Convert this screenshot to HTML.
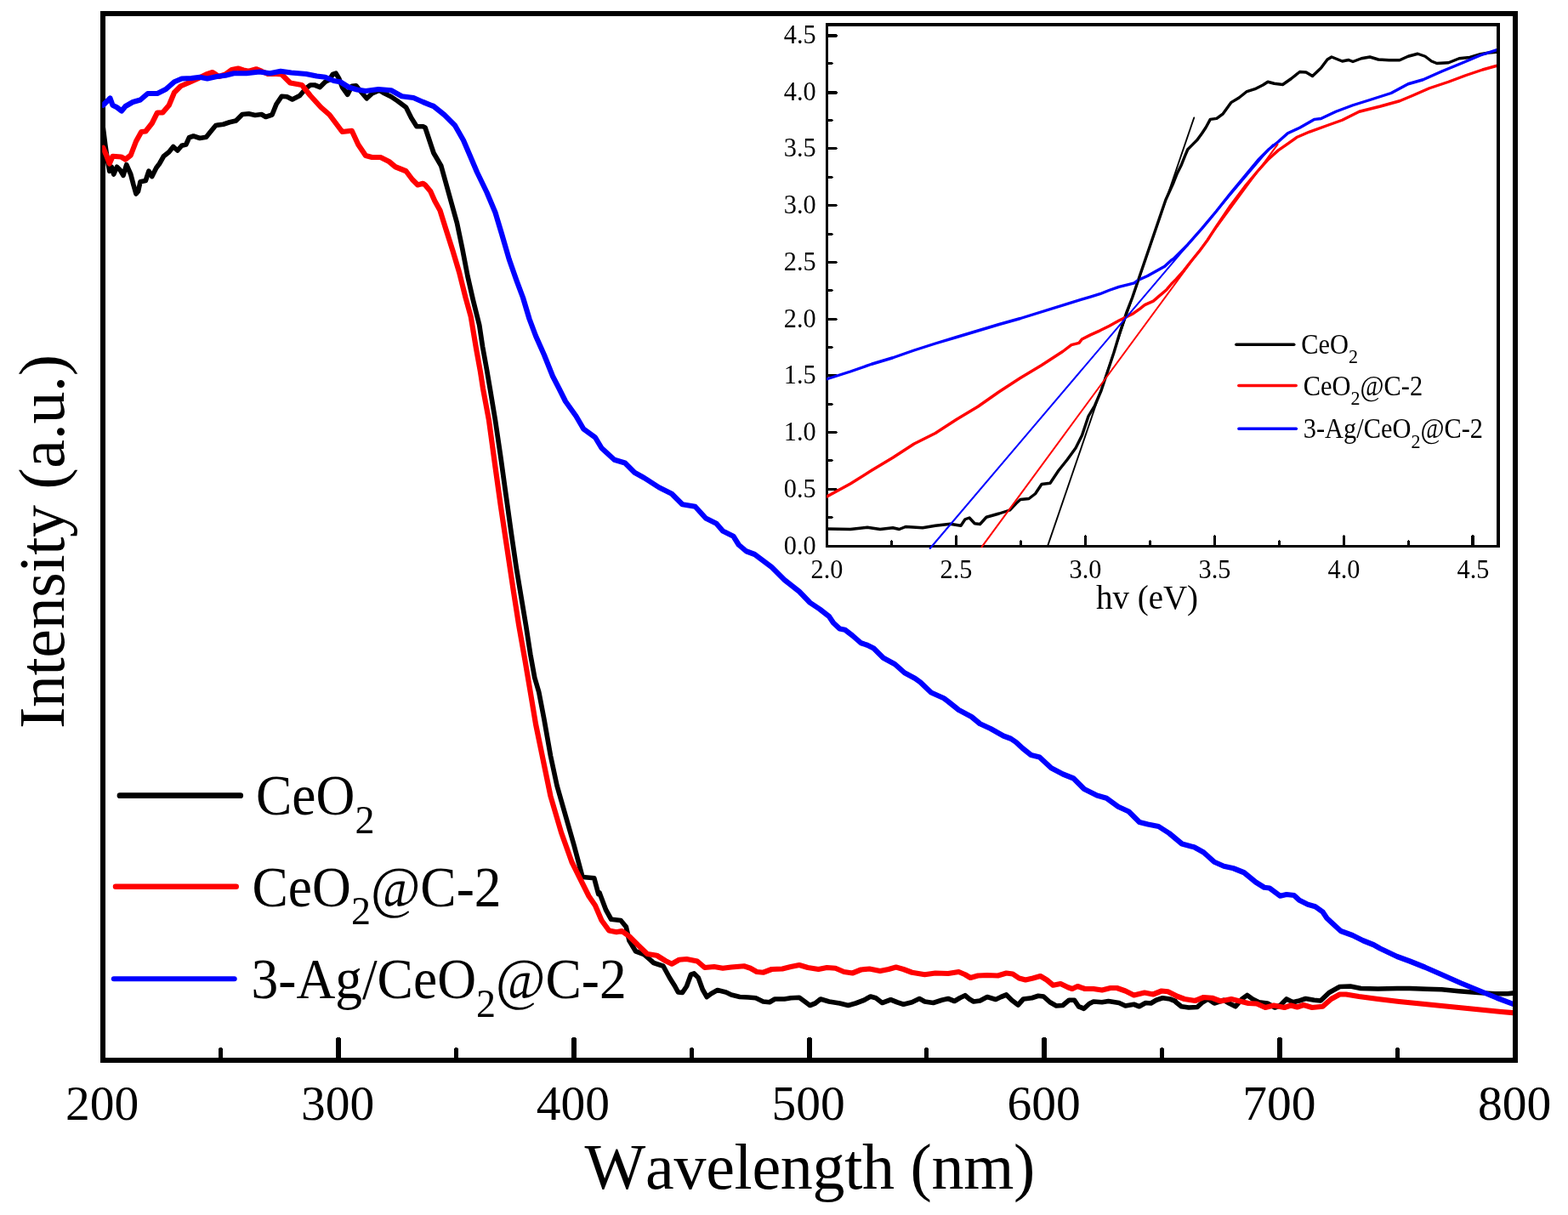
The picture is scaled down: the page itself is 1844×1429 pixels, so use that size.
<!DOCTYPE html>
<html lang="en"><head><meta charset="utf-8"><title>UV-vis DRS spectra</title>
<style>html,body{margin:0;padding:0;background:#fff;overflow:hidden;}svg{display:block;}text{font-family:"Liberation Serif", "DejaVu Serif", serif;fill:#000;font-kerning:none;}</style></head><body>
<svg width="1844" height="1429" viewBox="0 0 1844 1429">
<rect x="0" y="0" width="1844" height="1429" fill="#fff"/>
<defs><clipPath id="cm"><rect x="120.2" y="16" width="1658.8" height="1231"/></clipPath><clipPath id="ci"><rect x="972" y="29" width="788" height="613.5"/></clipPath></defs>
<path fill="#000" fill-rule="evenodd" shape-rendering="crispEdges" d="M118 13H1785V1250H118ZM124 19H1779V1244H124Z"/>
<g id="main-curves" clip-path="url(#cm)">
<polyline points="121.25,150 123.75,170 126.25,187.5 128.75,201.25 131.25,196.25 133.75,205 137.5,196.25 141.25,200 145,206.25 148.75,193.75 153.75,205 157,217.5 160,228 162.5,225 165,213.75 171.25,212.5 175,201.25 178.75,207.5 183.75,197.5 187.5,192.5 192.5,183.75 198.75,178.75 203.75,172.5 208.75,177 213.75,171.25 218.75,170 222.5,161.75 227.5,160 235,162.5 242.5,161.25 247.5,155 253.75,147.5 262.5,146.25 270,143.75 277.5,142 285,134.5 292.5,133.75 300,135.5 307.5,134.5 312.5,137.5 320,135 325,122.5 331.25,113.25 337.5,113.75 343.75,117 352.5,112.5 360,103.75 365,100 370,100 376.25,102.5 382.5,96.25 387.5,93.75 391.25,87.5 395,86.25 398.75,92.5 402.5,102.5 408.75,111.25 413.75,101.25 418.75,100.75 423.75,107 431.25,115.75 437.5,110 446.25,106.25 452.5,110 460,113.75 467.5,118.75 477.5,126.25 483.75,138.75 490,148.75 497.5,148.75 500,150 505,165 510,180 518.75,195 525,217.5 531.25,240 537.5,262.5 543.75,292.5 550,325 556.25,352.5 563.75,382.5 567.5,407.5 572.5,435 576.25,457 582.5,494.5 588.75,537 595,582 601.25,627 607.5,669.5 613.75,707 618.75,737 623.75,769.5 628.75,797 633.75,814 640,846.5 647.5,889 655,924 665,959 675,994 685,1031.5 698.75,1032.75 703.75,1051.5 705,1050 712.5,1070 718.75,1081.25 730,1082.5 736.25,1090 740,1106.25 747.5,1118.75 757.5,1122.5 768.75,1132.5 780,1136.25 787.5,1150 793.75,1160 797.5,1167 802.5,1167.5 807.5,1160 812.5,1146.25 816.25,1145 821.25,1150 826.25,1163.75 831.25,1172.5 836.25,1168.75 843.75,1164.5 853.75,1167 860,1170 870,1172.5 880,1173 888.75,1173.75 897.5,1178 905,1178.75 911.25,1175 922.5,1175 930,1173.75 940,1173.25 947.5,1178.75 952.5,1182.5 958.75,1180 965,1175 975,1178 987.5,1180 997.5,1182.5 1006.25,1180 1016.25,1176.25 1023.75,1172 1030,1173.75 1037.5,1179.5 1047.5,1175.75 1055,1178.75 1062.5,1181.25 1072.5,1178.75 1081.25,1174.5 1087.5,1178 1097.5,1179.5 1107.5,1176.25 1115,1174.5 1122.5,1177.5 1128.75,1173.75 1135,1170.75 1140,1175 1145,1178 1152.5,1177 1161,1172.5 1171,1175.5 1177.25,1172.5 1183.5,1170 1189.75,1176.25 1197.25,1182 1203.5,1175 1213.5,1173.75 1221,1171.25 1227.25,1172 1234.75,1178.75 1242.25,1183 1249.75,1182.5 1257.25,1176.25 1263.5,1176.25 1268.5,1183.75 1274.75,1186.25 1281,1180.5 1286,1178 1296,1178.75 1303.5,1177.5 1316,1179.5 1323.5,1183 1333.5,1181.25 1339.75,1183.75 1347.25,1179.5 1353.5,1180 1359.75,1176.25 1367.25,1173.75 1376,1175 1382.25,1177.5 1383,1178.75 1389.25,1183.75 1398,1185 1408,1184.5 1414.25,1178.75 1420.5,1175 1428,1180 1439.25,1176.25 1445.5,1180 1453,1183.75 1460.5,1175 1466.75,1170.5 1473,1175 1480.5,1178.75 1490.5,1180 1499.25,1185 1505.5,1182.5 1513,1175 1520.5,1178.75 1528,1177 1535.5,1174.5 1545.5,1176.25 1553,1177 1563,1167.5 1575.5,1160.5 1588,1160 1600.5,1162.5 1620.5,1163 1643,1162.5 1658,1162.5 1678,1163.25 1695.5,1163.75 1715.5,1165.75 1738,1167.5 1758,1168.75 1773,1168.75 1780.5,1168" fill="none" stroke="#000" stroke-width="5.7" stroke-linejoin="round" stroke-linecap="round"/>
<polyline points="121.25,173.75 125,182.5 128.75,192.5 132.5,183.75 142.5,184.5 147.5,187.5 153.75,182.5 160,166.25 166.25,155 171.25,154.5 178.75,145 185,132.5 191.25,132.5 198.75,123.75 205,108.75 212.5,101.25 222.5,97 232.5,92.5 242.5,87.5 250,85 257.5,90 265,87.5 272.5,82 280,80.5 286.25,82.5 292.5,83.75 301.25,81.25 307.5,83.75 315,87 325,87 331.25,87.5 341.25,97.5 355,100 365,112.5 377.5,126.25 387.5,135 402.5,155 413.75,153.75 421.25,170 430,183 437.5,185 447.5,185 457.5,190 465,196.25 477.5,201.25 485,211.25 491.25,217.5 497.5,215.75 500,217.5 506.25,225 511.25,236.25 517.5,247.5 523.75,267.5 532.5,295 540,320 547.5,350 553.75,372.5 560,410 565,437.5 568,457 575,494.5 582.5,549.5 588.75,594.5 596.25,644.5 603.75,694.5 610,734.5 617.5,777 623.75,814 630,851.5 638.75,894 647.5,936.5 660,979 672.5,1014 685,1039 692.5,1054 700,1065 707.5,1082.5 716.25,1094.5 725,1096.25 731.25,1095 740,1101.25 750,1111.25 761.25,1122 772.5,1123.75 782.5,1130 790,1133.75 798.75,1128.75 807.5,1128 820,1130.5 828.75,1138 840,1137 850,1138.75 860,1137.5 875,1136.25 882.5,1138.75 890,1143 897.5,1143.75 907.5,1140 920,1139.5 930,1137 940,1135 950,1138 962.5,1140 972.5,1138 982.5,1138.75 992.5,1143 1002.5,1144.5 1012.5,1140.5 1022.5,1139.5 1035,1142 1045,1140 1053.75,1137.5 1062.5,1140 1072.5,1143.75 1087.5,1146.25 1100,1144.5 1115,1145 1127.5,1143 1135,1146.25 1141.25,1150 1150,1147.5 1161,1147 1173.5,1147.5 1183.5,1144.5 1191,1145.5 1198.5,1150.5 1206,1152.5 1214.75,1150.5 1223.5,1148 1231,1152.5 1238.5,1158.75 1247.25,1157 1256,1161.25 1261,1163 1267.25,1160 1276,1163 1286,1163 1296,1164.5 1306,1162 1313.5,1162 1323.5,1165.5 1333.5,1170.5 1346,1167.5 1356,1169.5 1366,1165.5 1373.5,1166.25 1383.5,1171.25 1383,1171.25 1393,1175 1405.5,1177 1415.5,1173 1425.5,1173.75 1435.5,1177.5 1448,1175 1458,1177.5 1468,1180 1478,1180.5 1488,1185 1498,1182.5 1510.5,1185 1518,1182.5 1525.5,1184.5 1533,1182 1543,1185 1555.5,1183.75 1565.5,1175 1575.5,1169.5 1583,1169.5 1598,1172 1620.5,1175 1645.5,1178 1670.5,1180.5 1695.5,1183 1720.5,1185.5 1745.5,1188 1765.5,1190 1780.5,1191.25" fill="none" stroke="#f00" stroke-width="6.2" stroke-linejoin="round" stroke-linecap="round"/>
<polyline points="121.25,123.75 125,120 129.5,115.5 132.5,123.75 137.5,126.25 143,130.5 147.5,125 156.25,120 165,117.5 173.75,110 185,110 195,105 205,96.25 213.75,92.5 225,92 235,90.75 243.75,92.5 255,90 265,88.75 275,86.25 290,86.25 305,84.5 317.5,86.25 330,83.75 342.5,85.5 360,87 372.5,89.5 382.5,90.75 392.5,95 400,96.25 410,102.5 420,105.5 430,107 445,105 460,106.25 472.5,113.25 486.25,115 497.5,120 510,125 522.5,135 535,147.5 545,165 552.5,182.5 561,202.5 572.5,226.25 582.5,250 590,275 598.75,305 607.5,330 615,350 622.5,375 630,395 640,417.5 650,442.5 657.5,457 665,472 677.5,489.5 686.25,504.5 700,514.5 707.5,527 722.5,540.75 735,544.5 746.25,555.75 757.5,562 775,573.25 790,580.75 802.5,593.25 817.5,595.75 830,609.5 842.5,615.75 850,624.5 862.5,630.75 868.75,640.75 877.5,648.25 887.5,652 907.5,667 922.5,682 940,695.75 952.5,708.75 963.75,716.25 975,725 980,732.5 987.5,739.5 993.75,740.75 1002.5,747.5 1012.5,756.25 1020,758.75 1027.5,762.5 1038.75,773.75 1052.5,781.25 1063.75,791.25 1076.25,798 1082.5,802.5 1095,814.5 1110,821.25 1115,825 1127.5,835 1142.5,843 1152.5,851.25 1165,857 1180,865.5 1188.75,868.75 1195,873 1202.5,880 1212.5,888 1222.5,890.5 1236.25,903.25 1250,910.5 1262.5,915.5 1275,928 1290,935.5 1301.25,938.75 1315,948.75 1327.5,954.5 1340,967 1350,969.5 1362.5,972 1375,980 1390,992.5 1401,995.5 1404.25,996.25 1415.5,1002.5 1428,1013.75 1439.25,1018.75 1450.5,1021.25 1463,1026.25 1476.75,1037.5 1486.75,1043.75 1493,1044.5 1505.5,1053.75 1513,1052 1521.75,1053 1528,1058.75 1538,1063.75 1546.75,1066.25 1555.5,1072.5 1560.5,1080 1576.75,1095 1590.5,1100 1603,1106.25 1615.5,1111.25 1623,1115.5 1643,1125 1658,1130.5 1675.5,1137.5 1695.5,1146.25 1718,1156.25 1740.5,1165.5 1760.5,1173.75 1780.5,1181.25" fill="none" stroke="#00f" stroke-width="6.2" stroke-linejoin="round" stroke-linecap="round"/>
</g>
<g id="main-ticks" fill="#000" shape-rendering="crispEdges">
<rect x="257" y="1233" width="5" height="12"/>
<rect x="258" y="1232" width="3" height="1"/>
<rect x="395" y="1221" width="6" height="24"/>
<rect x="396" y="1220" width="4" height="1"/>
<rect x="534" y="1233" width="5" height="12"/>
<rect x="535" y="1232" width="3" height="1"/>
<rect x="672" y="1221" width="6" height="24"/>
<rect x="673" y="1220" width="4" height="1"/>
<rect x="811" y="1233" width="5" height="12"/>
<rect x="812" y="1232" width="3" height="1"/>
<rect x="949" y="1221" width="6" height="24"/>
<rect x="950" y="1220" width="4" height="1"/>
<rect x="1087" y="1233" width="5" height="12"/>
<rect x="1088" y="1232" width="3" height="1"/>
<rect x="1225" y="1221" width="6" height="24"/>
<rect x="1226" y="1220" width="4" height="1"/>
<rect x="1364" y="1233" width="5" height="12"/>
<rect x="1365" y="1232" width="3" height="1"/>
<rect x="1502" y="1221" width="6" height="24"/>
<rect x="1503" y="1220" width="4" height="1"/>
<rect x="1641" y="1233" width="5" height="12"/>
<rect x="1642" y="1232" width="3" height="1"/>
</g>
<g id="main-ticklabels" font-size="57.5" text-anchor="middle">
<text x="120.20" y="1316.6">200</text>
<text x="397.03" y="1316.6">300</text>
<text x="673.87" y="1316.6">400</text>
<text x="950.70" y="1316.6">500</text>
<text x="1227.53" y="1316.6">600</text>
<text x="1504.37" y="1316.6">700</text>
<text x="1781.20" y="1316.6">800</text>
</g>
<text x="952.3" y="1398" font-size="76" text-anchor="middle" letter-spacing="-0.3">Wavelength (nm)</text>
<text transform="translate(75.3,637.2) rotate(-90)" font-size="76" text-anchor="middle" letter-spacing="-0.35">Intensity (a.u.)</text>
<g id="main-legend" stroke-linecap="round">
<line x1="141" y1="935.7" x2="282.7" y2="935.7" stroke="#000" stroke-width="6.8"/>
<line x1="136" y1="1042.8" x2="277.7" y2="1042.8" stroke="#f00" stroke-width="6.5"/>
<line x1="133.8" y1="1151.3" x2="275.7" y2="1151.3" stroke="#00f" stroke-width="6"/>
</g>
<g><text transform="translate(301.00,958.40) scale(1,1.063)" font-size="63.5">CeO</text><text transform="translate(417.40,979.80) scale(1,1.0)" font-size="46">2</text></g>
<g><text transform="translate(296.50,1065.70) scale(1,1.063)" font-size="63.5">CeO</text><text transform="translate(412.90,1087.10) scale(1,1.0)" font-size="46">2</text><text transform="translate(435.90,1065.70) scale(1,1.063)" font-size="63.5">@C-2</text></g>
<g><text transform="translate(295.50,1174.20) scale(1,1.063)" font-size="63.5">3-Ag/CeO</text><text transform="translate(560.04,1195.60) scale(1,1.0)" font-size="46">2</text><text transform="translate(583.04,1174.20) scale(1,1.063)" font-size="63.5">@C-2</text></g>
<path fill="#000" fill-rule="evenodd" shape-rendering="crispEdges" d="M971 27H1764V644H971ZM974 31H1760V641H974Z"/>
<g id="inset-ticks" fill="#000" shape-rendering="crispEdges">
<rect x="1047" y="636" width="3" height="5"/>
<rect x="1048" y="635" width="1" height="1"/>
<rect x="1123" y="630" width="3" height="11"/>
<rect x="1124" y="629" width="1" height="1"/>
<rect x="1199" y="636" width="3" height="5"/>
<rect x="1200" y="635" width="1" height="1"/>
<rect x="1275" y="630" width="3" height="11"/>
<rect x="1276" y="629" width="1" height="1"/>
<rect x="1351" y="636" width="3" height="5"/>
<rect x="1352" y="635" width="1" height="1"/>
<rect x="1427" y="630" width="3" height="11"/>
<rect x="1428" y="629" width="1" height="1"/>
<rect x="1503" y="636" width="3" height="5"/>
<rect x="1504" y="635" width="1" height="1"/>
<rect x="1579" y="630" width="3" height="11"/>
<rect x="1580" y="629" width="1" height="1"/>
<rect x="1655" y="636" width="3" height="5"/>
<rect x="1656" y="635" width="1" height="1"/>
<rect x="1730" y="630" width="4" height="11"/>
<rect x="1731" y="629" width="2" height="1"/>
<rect x="974" y="607" width="5" height="3"/>
<rect x="979" y="608" width="1" height="1"/>
<rect x="974" y="574" width="10" height="3"/>
<rect x="984" y="575" width="1" height="1"/>
<rect x="974" y="540" width="5" height="3"/>
<rect x="979" y="541" width="1" height="1"/>
<rect x="974" y="507" width="10" height="3"/>
<rect x="984" y="508" width="1" height="1"/>
<rect x="974" y="474" width="5" height="3"/>
<rect x="979" y="475" width="1" height="1"/>
<rect x="974" y="440" width="10" height="3"/>
<rect x="984" y="441" width="1" height="1"/>
<rect x="974" y="407" width="5" height="3"/>
<rect x="979" y="408" width="1" height="1"/>
<rect x="974" y="374" width="10" height="3"/>
<rect x="984" y="375" width="1" height="1"/>
<rect x="974" y="340" width="5" height="3"/>
<rect x="979" y="341" width="1" height="1"/>
<rect x="974" y="307" width="10" height="3"/>
<rect x="984" y="308" width="1" height="1"/>
<rect x="974" y="274" width="5" height="3"/>
<rect x="979" y="275" width="1" height="1"/>
<rect x="974" y="240" width="10" height="3"/>
<rect x="984" y="241" width="1" height="1"/>
<rect x="974" y="207" width="5" height="3"/>
<rect x="979" y="208" width="1" height="1"/>
<rect x="974" y="173" width="10" height="3"/>
<rect x="984" y="174" width="1" height="1"/>
<rect x="974" y="140" width="5" height="3"/>
<rect x="979" y="141" width="1" height="1"/>
<rect x="974" y="107" width="10" height="4"/>
<rect x="984" y="108" width="1" height="2"/>
<rect x="974" y="73" width="5" height="3"/>
<rect x="979" y="74" width="1" height="1"/>
<rect x="974" y="40" width="10" height="4"/>
<rect x="984" y="41" width="1" height="2"/>
</g>
<g id="inset-curves" clip-path="url(#ci)">
<polyline points="972.5,622 1000,622.5 1020,620.25 1035,622.5 1050,620.75 1057.5,622.5 1065,619.5 1085,620.75 1100,618.25 1117.5,616.25 1130,618.25 1135,610.75 1140,609 1146.25,615.75 1152.5,616.5 1160,608.25 1175,604 1187.5,600 1195,592 1200,587.5 1210,586.5 1217.5,580.75 1225,569.5 1235,568.25 1245,553.25 1255,540.75 1265,527 1272.5,512 1280,489.5 1287.5,477 1295,459.5 1302.5,437 1310,414.5 1317.5,389.5 1325,367 1331.62,350 1338.46,330 1345.29,310 1352.13,290 1358.96,270 1365.79,250 1370.92,235 1380,214.94 1384.48,203.74 1388.96,194.79 1393.44,183.59 1396.79,175.75 1402.39,170.15 1407.99,164.56 1413.59,156.72 1418.07,150 1423.29,140.34 1430.79,139.4 1438.3,133.77 1447.68,120.64 1457.06,115.01 1466.44,107.51 1475.82,104.69 1485.21,100 1491,96.25 1498.5,98.25 1508.5,99.5 1518.5,92.5 1528.5,84.5 1536,85 1543.5,89.5 1553.5,80 1561,70 1566,67 1573.5,70 1578.5,72 1586,70.5 1591,72.5 1601,68.75 1611,67 1621,70 1633.5,70.75 1646,70.75 1656,66.25 1667.25,63.25 1676,66.25 1683.5,72 1689.75,74.5 1703.5,73.75 1716,68.75 1728.5,67.5 1741,63.75 1751,62 1759.75,61.25" fill="none" stroke="#000" stroke-width="3.4" stroke-linejoin="round" stroke-linecap="round"/>
<polyline points="972.5,584 1000,569 1025,553.25 1050,538.25 1075,522 1100,509.5 1125,493.25 1150,478.25 1175,460.75 1200,444.5 1225,429.5 1250,413.25 1260,405.63 1268.96,403.39 1272.32,398.92 1282.39,393.88 1293.59,388.84 1304.79,383.24 1315.98,377.08 1322.7,373.72 1332.78,368.68 1340.62,363.09 1346.21,358.61 1356.29,354.13 1364.13,347.41 1371.97,340.69 1377.56,333.97 1383.16,328.38 1392.12,318.3 1399.96,308.22 1410.03,295.91 1420,282.47 1430.38,266.45 1447.18,241.81 1463.97,219.42 1480.77,199.27 1491.97,186.95 1503.16,176.87 1514.36,169.03 1525.56,161.2 1540,155.04 1561,147.5 1578.5,141.25 1598.5,131.25 1623.5,125 1646,118.75 1661,112.5 1681,103.75 1703.5,96.25 1723.5,88.75 1743.5,82 1759.75,77.5" fill="none" stroke="#f00" stroke-width="3.4" stroke-linejoin="round" stroke-linecap="round"/>
<polyline points="972.5,445.75 1000,437 1025,428.25 1050,420.75 1075,412 1100,404 1125,396.5 1150,389 1175,381.5 1200,374.5 1260,355.81 1271.2,352.45 1282.39,349.09 1293.59,345.73 1304.79,341.25 1315.98,337.33 1327.18,334.53 1333.9,332.86 1338.38,329.5 1349.57,324.46 1360.77,318.3 1369.73,313.26 1377.56,305.98 1380,304.51 1396.79,287.72 1413.59,268.68 1430.38,248.53 1447.18,227.26 1463.97,207.1 1480.77,186.95 1491.97,175.75 1503.16,166.79 1514.36,156.72 1528.92,150 1546,140.34 1553.5,139.5 1571,131.25 1591,123.75 1611,117.5 1636,109.5 1656,98.75 1673.5,93.75 1696,83.75 1718.5,74.5 1741,65 1759.75,58.75" fill="none" stroke="#00f" stroke-width="3.4" stroke-linejoin="round" stroke-linecap="round"/>
</g>
<polyline points="1232,642.4 1404.2,138.5" fill="none" stroke="#000" stroke-width="1.9" stroke-linejoin="round" stroke-linecap="round"/>
<polyline points="1154.5,643.3 1502.5,169.8" fill="none" stroke="#f00" stroke-width="2.0" stroke-linejoin="round" stroke-linecap="round"/>
<polyline points="1093.75,645 1497,170.2" fill="none" stroke="#00f" stroke-width="2.0" stroke-linejoin="round" stroke-linecap="round"/>
<g id="inset-xlabels" font-size="30.3" text-anchor="middle">
<text transform="translate(972.50,679.9) scale(1,1.05)">2.0</text>
<text transform="translate(1124.50,679.9) scale(1,1.05)">2.5</text>
<text transform="translate(1276.50,679.9) scale(1,1.05)">3.0</text>
<text transform="translate(1428.50,679.9) scale(1,1.05)">3.5</text>
<text transform="translate(1580.50,679.9) scale(1,1.05)">4.0</text>
<text transform="translate(1732.50,679.9) scale(1,1.05)">4.5</text>
</g>
<g id="inset-ylabels" font-size="30.3" text-anchor="end">
<text transform="translate(959.6,651.50) scale(1,1.05)">0.0</text>
<text transform="translate(959.6,584.78) scale(1,1.05)">0.5</text>
<text transform="translate(959.6,518.06) scale(1,1.05)">1.0</text>
<text transform="translate(959.6,451.34) scale(1,1.05)">1.5</text>
<text transform="translate(959.6,384.62) scale(1,1.05)">2.0</text>
<text transform="translate(959.6,317.90) scale(1,1.05)">2.5</text>
<text transform="translate(959.6,251.18) scale(1,1.05)">3.0</text>
<text transform="translate(959.6,184.46) scale(1,1.05)">3.5</text>
<text transform="translate(959.6,117.74) scale(1,1.05)">4.0</text>
<text transform="translate(959.6,51.02) scale(1,1.05)">4.5</text>
</g>
<text x="1349" y="715.7" font-size="39" text-anchor="middle">hv (eV)</text>
<g id="inset-legend" stroke-width="3.4" stroke-linecap="round">
<line x1="1453.8" y1="405.2" x2="1521.8" y2="405.2" stroke="#000"/>
<line x1="1456.8" y1="453.5" x2="1524.2" y2="453.5" stroke="#f00"/>
<line x1="1456.8" y1="504.2" x2="1524.4" y2="504.2" stroke="#00f"/>
</g>
<g><text transform="translate(1530.20,415.60) scale(1,1.085)" font-size="30.4">CeO</text><text transform="translate(1585.92,426.90) scale(1,1.03)" font-size="22">2</text></g>
<g><text transform="translate(1532.80,464.50) scale(1,1.085)" font-size="30.4">CeO</text><text transform="translate(1588.52,475.80) scale(1,1.03)" font-size="22">2</text><text transform="translate(1599.52,464.50) scale(1,1.085)" font-size="30.4">@C-2</text></g>
<g><text transform="translate(1532.80,515.40) scale(1,1.085)" font-size="30.4">3-Ag/CeO</text><text transform="translate(1659.45,526.70) scale(1,1.03)" font-size="22">2</text><text transform="translate(1670.45,515.40) scale(1,1.085)" font-size="30.4">@C-2</text></g>
</svg></body></html>
